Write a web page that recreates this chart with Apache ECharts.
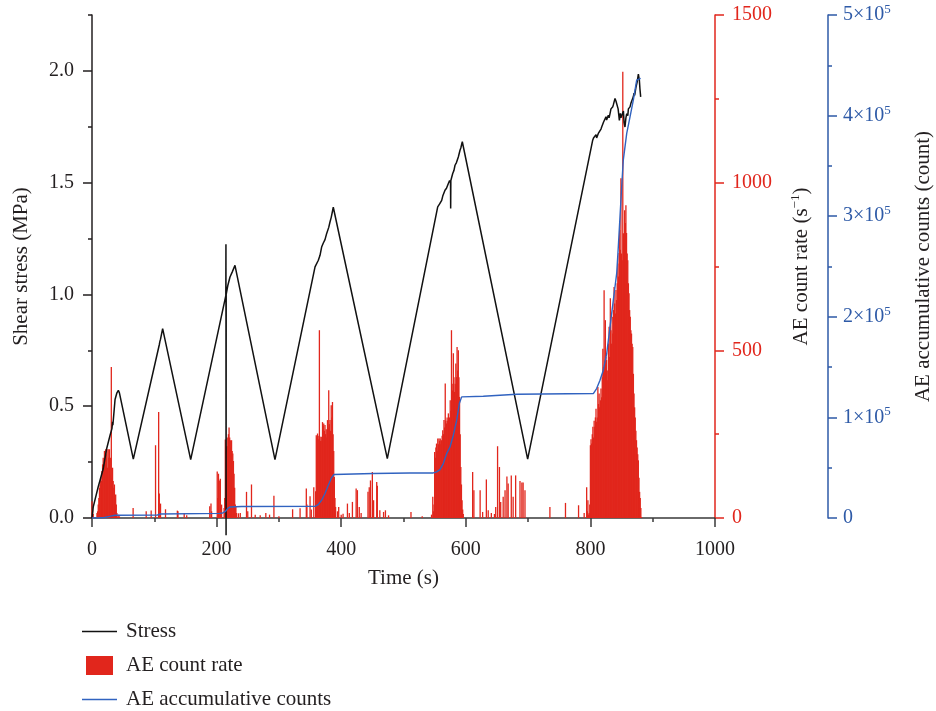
<!DOCTYPE html>
<html><head><meta charset="utf-8">
<script src="https://cdn.jsdelivr.net/npm/echarts@6/dist/echarts.min.js"></script>
<style>html,body{margin:0;padding:0;background:#fff}#c{width:936px;height:711px}</style>
</head><body><div id="c"></div>
<script>
// ---- data (time in s) ----
const stressPoints = [
[0,0],[2,0.05],[10,0.14],[18,0.22],[23.5,0.31],[29,0.37],[32,0.40],[33,0.43],[33.5,0.415],[37,0.53],[40,0.56],[42.3,0.571],[44,0.56],
[66.3,0.263],
[108,0.775],[109,0.79],[110,0.8],[113.4,0.847],
[158.4,0.261],
[214.8,0.995],[215,1.224],[215.2,-0.077],[215.4,1.0],[218,1.04],[221.5,1.078],[225,1.1],[229.5,1.13],
[293.7,0.261],
[358,1.123],[360,1.13],[363.3,1.153],[365,1.16],[366,1.175],[368.6,1.212],[370,1.205],[371.3,1.23],[374,1.245],[376.7,1.273],[378,1.27],[380,1.30],[382,1.324],[384,1.345],[385,1.34],[387.3,1.39],[388.4,1.398],
[474,0.266],
[554.9,1.392],[558,1.405],[561.3,1.421],[563,1.44],[564,1.435],[566.6,1.466],[569,1.475],[572,1.496],[574,1.51],[575.5,1.5],[575.7,1.385],[576,1.51],[579,1.541],[581,1.555],[582.7,1.578],[585,1.59],[586,1.585],[588,1.615],[590.7,1.645],[592,1.655],[594.4,1.683],
[699.3,0.263],
[803.7,1.69],[805,1.70],[807.4,1.705],[809,1.715],[810,1.70],[812.7,1.72],[815.4,1.727],[817,1.74],[818.1,1.749],[820,1.745],[821,1.77],[823.4,1.772],[825,1.795],[826,1.78],[828.8,1.802],[830,1.79],[831.5,1.809],[833,1.83],[834.2,1.824],[836,1.84],[837,1.85],[839.5,1.877],[841,1.865],[843.3,1.861],[844.5,1.83],[846.5,1.779],[848,1.81],[849,1.79],[851.8,1.794],[853,1.82],[854,1.77],[855.5,1.749],[857,1.79],[858.3,1.809],[860,1.80],[861,1.83],[863.6,1.839],[865,1.855],[866,1.85],[868.9,1.884],[870,1.90],[871,1.89],[873.2,1.928],[875,1.95],[877,1.985],[878.6,1.958],[879.5,1.92],[880.7,1.884]
];

const aeRatePoints = [
[0,50],[1,25],[2,12],[8,15],[9,20],
[10,40],[11,60],[12,90],[13,100],[14,120],[15,110],[16,140],[17,160],[18,180],[19,150],[20,200],[21,170],[22,205],[23,190],[24,205],[25,150],[26,205],[27,180],[28,205],[29,130],[30,180],[31,450],[32,120],[33,150],[34,110],[35,90],[36,100],[37,60],[38,70],[39,40],[40,15],[42,10],[44,5],
[66,30],[87,20],[95,22],[102,217],[107,316],[108,73],[110,43],[118,26],[137,22],[138,20],[148,15],[152,8],
[189,35],[191,43],[192,20],[201,139],[202,60],[203,132],[205,112],[206,117],[208,40],
[212,30],[213,60],[214,234],[215,200],[216,214],[217,240],[218,214],[219,250],[220,270],[221,240],[222,232],[223,210],[224,232],[225,200],[226,192],[227,170],[228,132],[229,90],[230,40],[231,33],[232,15],
[235,14],[238,15],[248,78],[250,20],[256,100],[262,10],[270,8],[279,15],[285,10],[292,66],[300,5],[322,26],[334,29],[344,88],[345,40],[350,65],[352,25],[356,92],
[359,80],[360,247],[361,240],[362,252],[363,245],[364,235],[365,560],[366,242],[367,230],[368,242],[369,230],[370,286],[371,275],[372,282],[373,260],[374,277],[375,250],[376,265],[377,240],[378,292],[379,270],[380,381],[381,280],[382,292],[383,260],[384,336],[385,300],[386,346],[387,250],[388,200],[389,122],[390,60],[391,33],
[394,20],[396,33],[400,10],[403,13],[410,43],[413,15],[418,48],[424,88],[426,83],[429,33],[432,15],[443,78],[445,92],[447,112],[450,137],[452,53],[457,107],[458,96],[462,23],[468,18],[471,23],[476,8],
[512,18],[530,5],[545,10],
[547,63],[548,20],[549,40],[550,197],[551,180],[552,210],[553,222],[554,200],[555,237],[556,220],[557,237],[558,230],[559,237],[560,220],[561,232],[562,245],[563,262],[564,250],[565,292],[566,270],[567,401],[568,290],[569,282],[570,300],[571,290],[572,312],[573,282],[574,300],[575,351],[576,320],[577,560],[578,400],[579,380],[580,491],[581,420],[582,376],[583,400],[584,461],[585,420],[586,510],[587,440],[588,500],[589,420],[590,361],[591,250],[592,152],[593,100],[594,53],[595,25],[596,12],
[611,137],[613,83],[623,83],[627,18],[633,115],[636,23],[641,15],[646,12],[648,33],[651,214],[654,152],[656,48],[660,63],[663,83],[666,124],[668,103],[673,127],[676,63],[680,127],[687,110],[690,106],[692,106],[695,83],
[735,33],[760,45],[781,38],[790,15],[794,92],[795,20],[796,53],[797,10],[798,15],[799,40],
[800,217],[801,235],[802,222],[803,250],[804,272],[805,240],[806,290],[807,272],[808,300],[809,326],[810,287],[811,300],[812,391],[813,340],[814,371],[815,330],[816,351],[817,386],[818,360],[819,420],[820,505],[821,450],[822,679],[823,470],[824,590],[825,480],[826,471],[827,440],[828,411],[829,520],[830,570],[831,480],[832,655],[833,560],[834,520],[835,600],[836,550],[837,620],[838,689],[839,640],[840,610],[841,680],[842,650],[843,700],[844,759],[845,720],[846,790],[847,859],[848,800],[849,1013],[850,789],[851,769],[852,1331],[853,849],[854,820],[855,918],[856,880],[857,933],[858,850],[859,789],[860,769],[861,700],[862,670],[863,620],[864,600],[865,560],[866,550],[867,520],[868,510],[869,430],[870,371],[871,330],[872,300],[873,260],[874,232],[875,210],[876,190],[877,172],[878,120],[879,78],[880,60],[881,30],[882,3]
];

const aeCumulativePoints = [
[0,0],[10,0],[20,500],[30,1800],[37,2700],[105,3000],[110,4000],[205,4600],[210,5000],[214,6500],[218,9500],[222,11000],[240,11500],[358,11600],[363,13300],[368.6,17600],[374,24300],[379.3,32500],[384.7,40200],[388.4,43200],[451.6,44200],[510,44800],[547.8,44800],[553.2,45800],[558.6,48100],[563.9,54100],[569.3,64000],[574.6,70600],[580,82300],[585.4,97200],[589.6,113800],[593.4,120400],[628,121000],[681.7,123000],[804.7,123700],[810,128700],[815.4,137000],[820.7,146900],[826.2,163500],[831.5,190000],[836.8,216500],[842.2,243100],[844.8,269500],[847.5,299400],[850.2,329200],[852.8,355800],[858.3,382300],[863.6,398800],[868.9,415400],[874.3,435300],[877,437000],[880.7,437000]
];

const timeTicks = [0, 200, 400, 600, 800, 1000];
const stressTicks = [0, 0.5, 1.0, 1.5, 2.0];
const rateTicks = [0, 500, 1000, 1500];
const cumTicks = [0, 100000, 200000, 300000, 400000, 500000];
const legendNames = ['Stress', 'AE count rate', 'AE accumulative counts'];

// ---- styles ----
const FONT = '"Liberation Serif","DejaVu Serif",serif';
const TXT = '#231f20';
const RED = '#e1261c';
const BLUE = '#2e5aa7';
const BLUE_LINE = '#3163c0';
const AXIS = '#3a3a3a';
const LINE_ICON = 'path://M0,0 L35,0 L35,1.4 L0,1.4 Z';

const chart = echarts.init(document.getElementById('c'), null, {renderer: 'canvas'});
const lbl = (c) => ({fontFamily: FONT, fontSize: 20, color: c});

chart.setOption({
  animation: false,
  backgroundColor: '#fff',
  grid: {left: 92, right: 221, top: 15, bottom: 193, containLabel: false, outerBoundsMode: 'none'},
  legend: {
    orient: 'vertical', left: 82, top: 621, padding: 0,
    itemWidth: 35, itemHeight: 19, itemGap: 13,
    symbolKeepAspect: true,
    textStyle: {fontFamily: FONT, fontSize: 21, color: TXT, padding: [0,0,0,4]},
    data: [
      {name: legendNames[0], icon: LINE_ICON, itemStyle: {color: '#111'}},
      {name: legendNames[1], icon: 'path://M0,0 L27,0 L27,19 L0,19 Z'},
      {name: legendNames[2], icon: LINE_ICON, itemStyle: {color: BLUE_LINE}}
    ]
  },
  xAxis: {
    type: 'value', min: 0, max: 1000, interval: 200,
    name: 'Time (s)', nameLocation: 'middle', nameGap: 50,
    nameTextStyle: {fontFamily: FONT, fontSize: 21, color: TXT},
    axisLine: {show: true, lineStyle: {color: AXIS, width: 1.5}},
    axisTick: {show: true, length: 9, lineStyle: {color: AXIS, width: 1.5}},
    minorTick: {show: true, splitNumber: 2, length: 4, lineStyle: {color: AXIS, width: 1.5}},
    axisLabel: Object.assign(lbl(TXT), {margin: 22, customValues: timeTicks, formatter: v => String(v)}),
    splitLine: {show: false}, minorSplitLine: {show: false}
  },
  yAxis: [
    {
      type: 'value', position: 'left', min: 0, max: 2.25, interval: 0.5,
      name: 'Shear stress (MPa)', nameLocation: 'middle', nameGap: 60,
      nameTextStyle: {fontFamily: FONT, fontSize: 21, color: TXT},
      axisLine: {show: true, lineStyle: {color: TXT, width: 1.5}},
      axisTick: {show: true, length: 9, customValues: stressTicks, lineStyle: {color: TXT, width: 1.5}},
      axisLabel: Object.assign(lbl(TXT), {margin: 18, customValues: stressTicks, formatter: v => v.toFixed(1)}),
      splitLine: {show: false}
    },
    {
      type: 'value', position: 'left', min: 0, max: 2.25, interval: 0.25,
      axisLine: {show: false},
      axisTick: {show: true, length: 4, lineStyle: {color: TXT, width: 1.5}},
      axisLabel: {show: false}, splitLine: {show: false}
    },
    {
      type: 'value', position: 'right', min: 0, max: 1500, interval: 500,
      name: '{a|AE count rate (s}{b|−1}{a|)}', nameLocation: 'middle', nameGap: 74,
      nameTextStyle: {rich: {
        a: {fontFamily: FONT, fontSize: 21, color: TXT, lineHeight: 24},
        b: {fontFamily: FONT, fontSize: 13, color: TXT, lineHeight: 13, verticalAlign: 'top'}
      }},
      axisLine: {show: true, lineStyle: {color: RED, width: 1.5}},
      axisTick: {show: true, length: 9, lineStyle: {color: RED, width: 1.5}},
      minorTick: {show: true, splitNumber: 2, length: 4, lineStyle: {color: RED, width: 1.5}},
      axisLabel: Object.assign(lbl(RED), {margin: 17, customValues: rateTicks, formatter: v => String(v)}),
      splitLine: {show: false}, minorSplitLine: {show: false}
    },
    {
      type: 'value', position: 'right', offset: 113, min: 0, max: 500000, interval: 100000,
      name: 'AE accumulative counts (count)', nameLocation: 'middle', nameGap: 85,
      nameTextStyle: {fontFamily: FONT, fontSize: 21, color: TXT},
      axisLine: {show: true, lineStyle: {color: BLUE, width: 1.5}},
      axisTick: {show: true, length: 9, lineStyle: {color: BLUE, width: 1.5}},
      minorTick: {show: true, splitNumber: 2, length: 4, lineStyle: {color: BLUE, width: 1.5}},
      axisLabel: {
        margin: 15, customValues: cumTicks,
        formatter: v => v === 0 ? '{n|0}' : '{n|' + Math.round(v / 100000) + '×10}{s|5}',
        rich: {
          n: {fontFamily: FONT, fontSize: 20, color: BLUE, lineHeight: 24},
          s: {fontFamily: FONT, fontSize: 13, color: BLUE, lineHeight: 13, verticalAlign: 'top'}
        }
      },
      splitLine: {show: false}, minorSplitLine: {show: false}
    }
  ],
  series: [
    {
      name: legendNames[1], type: 'bar', xAxisIndex: 0, yAxisIndex: 2,
      data: aeRatePoints, barWidth: 1.3, itemStyle: {color: RED},
      z: 1
    },
    {
      name: legendNames[0], type: 'line', xAxisIndex: 0, yAxisIndex: 0,
      data: stressPoints, symbol: 'none', showSymbol: false, clip: false,
      lineStyle: {color: '#111', width: 1.5}, itemStyle: {color: '#111'},
      z: 3
    },
    {
      name: legendNames[2], type: 'line', xAxisIndex: 0, yAxisIndex: 3,
      data: aeCumulativePoints, symbol: 'none', showSymbol: false,
      lineStyle: {color: BLUE_LINE, width: 1.4}, itemStyle: {color: BLUE_LINE},
      z: 4
    }
  ]
});
</script>
</body></html>
